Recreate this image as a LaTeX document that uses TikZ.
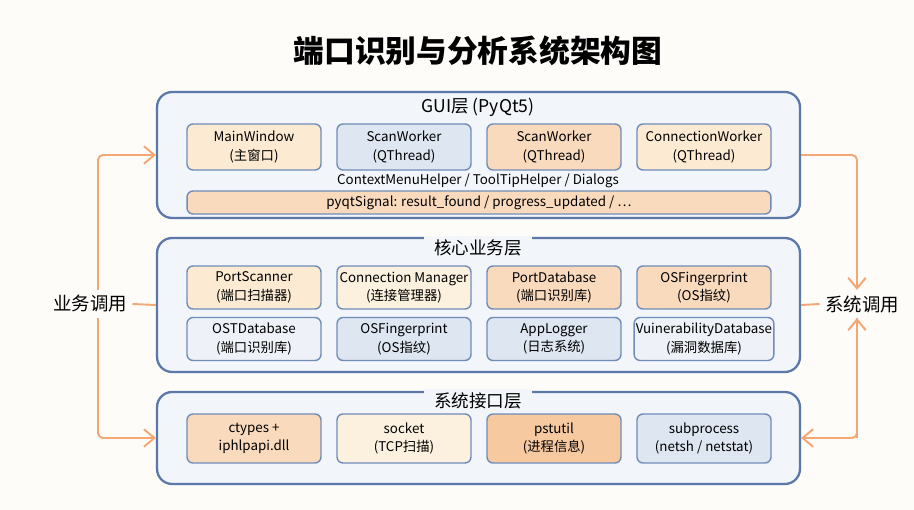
\documentclass[tikz,border=0pt]{standalone}
\usepackage{fontspec}
\setmainfont{Noto Sans CJK SC}
\usetikzlibrary{arrows.meta}

\definecolor{bg}{HTML}{FDFCF9}
\definecolor{layerline}{HTML}{5A78A8}
\definecolor{layerfill}{HTML}{F2F5FA}
\definecolor{boxline}{HTML}{6F8CB8}
\definecolor{peach}{HTML}{FCEAD3}
\definecolor{cream}{HTML}{FCF1DE}
\definecolor{apricot}{HTML}{F9DABD}
\definecolor{tangerine}{HTML}{F7C9A0}
\definecolor{mist}{HTML}{EEF2F8}
\definecolor{sky}{HTML}{DDE6F1}
\definecolor{flowc}{HTML}{F4A673}

\begin{document}
\begin{tikzpicture}[x=0.02cm,y=-0.02cm,
        layer/.style={draw=layerline,line width=1.3pt,fill=layerfill,rounded corners=0.3cm,
                      minimum width=12.86cm,inner sep=0pt},
        layertitle/.style={fill=layerfill,inner xsep=6pt,inner ysep=2pt,font=\fontsize{10}{12}\selectfont},
        box/.style={draw=boxline,line width=0.8pt,rounded corners=0.12cm,align=center,
                    minimum width=2.68cm,inner sep=1pt,font=\fontsize{7.6}{10.6}\selectfont},
        side/.style={fill=bg,inner sep=3pt,font=\fontsize{10.5}{12}\selectfont},
        flow/.style={draw=flowc,line width=1.1pt,rounded corners=0.1cm},
        tip/.style={-{Straight Barb[length=6pt,width=10pt,line width=1.1pt]}}]
    \useasboundingbox[fill=bg] (0,0) rectangle (914,510);

    % title
    \node (title) at (478,51) {\fontsize{17.5}{20}\selectfont\bfseries 端口识别与分析系统架构图};

    % layers
    \node[layer,minimum height=2.52cm] (gui)  at (478.5,155) {};
    \node[layer,minimum height=2.68cm] (core) at (478.5,305) {};
    \node[layer,minimum height=1.84cm] (sys)  at (478.5,438) {};

    \node[layertitle] (guit)  at (478,107) {GUI层 (PyQt5)};
    \node[layertitle] (coret) at (478,248) {核心业务层};
    \node[layertitle] (syst)  at (478,401) {系统接口层};

    % GUI layer
    \begin{scope}[every node/.style={box,minimum height=0.92cm}]
        \node[fill=peach]   (mainwin)  at (254,147) {MainWindow\\(主窗口)};
        \node[fill=sky]     (scanA)    at (404,147) {ScanWorker\\(QThread)};
        \node[fill=apricot] (scanB)    at (554,147) {ScanWorker\\(QThread)};
        \node[fill=peach]   (connwork) at (704,147) {ConnectionWorker\\(QThread)};
    \end{scope}
    \node[font=\fontsize{7.6}{10}\selectfont] (helpers) at (478,181) {ContextMenuHelper / ToolTipHelper / Dialogs};
    \node[box,fill=apricot,minimum width=11.68cm,minimum height=0.46cm] (sigbar) at (479,202.5)
        {pyqtSignal: result\_found / progress\_updated / \dots};

    % core layer
    \begin{scope}[every node/.style={box,minimum height=0.86cm}]
        \node[fill=peach]   (portscan) at (254,287.5) {PortScanner\\(端口扫描器)};
        \node[fill=cream]   (connmgr)  at (404,287.5) {Connection Manager\\(连接管理器)};
        \node[fill=apricot] (portdb)   at (554,287.5) {PortDatabase\\(端口识别库)};
        \node[fill=apricot] (osfp)     at (704,287.5) {OSFingerprint\\(OS指纹)};
        \node[fill=mist]    (ostdb)    at (254,339)   {OSTDatabase\\(端口识别库)};
        \node[fill=sky]     (osfpB)    at (404,339)   {OSFingerprint\\(OS指纹)};
        \node[fill=sky]     (applog)   at (554,339)   {AppLogger\\(日志系统)};
        \node[fill=mist]    (vulndb)   at (704,339)   {VuinerabilityDatabase\\(漏洞数据库)};
    \end{scope}

    % system interface layer
    \begin{scope}[every node/.style={box,minimum height=0.98cm}]
        \node[fill=apricot]   (ctypes)  at (254,438.5) {ctypes +\\iphlpapi.dll};
        \node[fill=cream]     (socket)  at (404,438.5) {socket\\(TCP扫描)};
        \node[fill=tangerine] (psutil)  at (554,438.5) {pstutil\\(进程信息)};
        \node[fill=sky]       (subproc) at (704,438.5) {subprocess\\(netsh / netstat)};
    \end{scope}

    % side calls
    \node[side] (bizcall) at (90,304) {业务调用};
    \node[side] (syscall) at (862,304) {系统调用};
    \coordinate (lt) at (98,155);
    \coordinate (lb) at (98,438);
    \coordinate (rt) at (857,155);
    \coordinate (rb) at (857,438);

    \draw[flow,tip] (bizcall.north -| lt) -- (lt) -- (gui.west);
    \draw[flow,tip] (bizcall.south -| lt) -- (lb) -- (sys.west);
    \draw[flow] (bizcall.east) -- (core.west);
    \draw[flow,tip] (gui.east) -- (rt) -- (syscall.north -| rt);
    \draw[flow,tip] (syscall.south -| rt) -- (rb) -- (sys.east);
    \draw[flow,tip] (rb) -- (syscall.south -| rt);
    \draw[flow] (core.east) -- (syscall.west);
\end{tikzpicture}
\end{document}
